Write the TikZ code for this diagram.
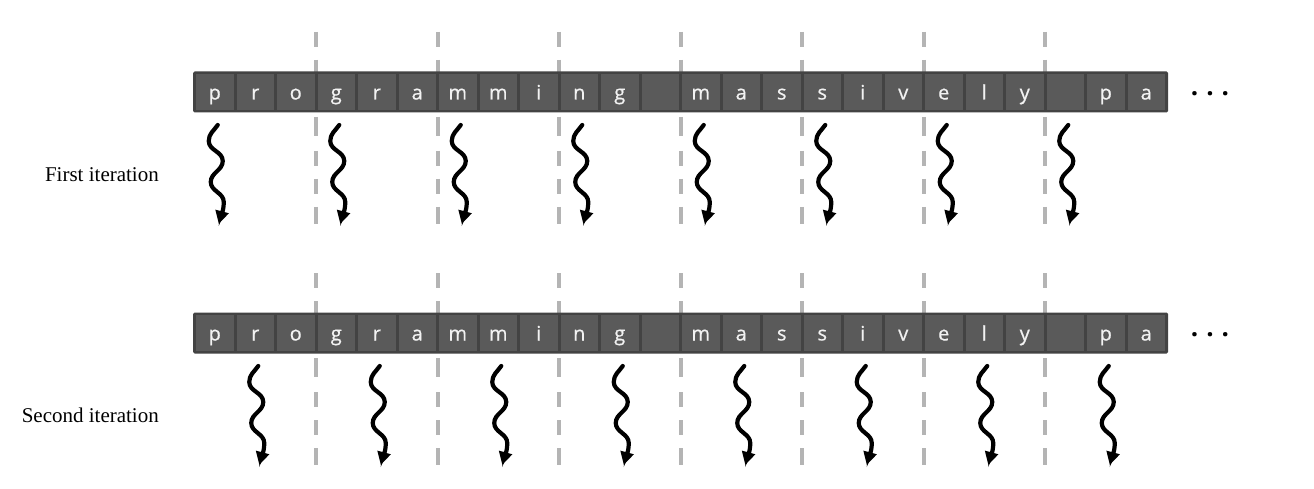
\documentclass[tikz,border=0pt]{standalone}
\usepackage{fontspec}
\setmainfont{Liberation Serif}
\newfontfamily\cellfont[FakeBold=0.6]{Open Sans}
\newfontfamily\dotfont{Open Sans}
\usetikzlibrary{arrows.meta}
\definecolor{barc}{HTML}{434343}
\definecolor{cellc}{HTML}{5A5A5A}
\definecolor{dashc}{HTML}{B4B4B4}
\definecolor{letterc}{HTML}{F2F2F2}
\begin{document}
\begin{tikzpicture}[x=1pt,y=1pt,
  barbox/.style={draw=none,fill=barc,rounded corners=1.5pt,minimum width=975pt,minimum height=41pt,inner sep=0pt},
  cellbox/.style={fill=cellc,minimum width=37.5pt,minimum height=36pt,inner sep=0pt,
     text=letterc,font=\cellfont\fontsize{20}{22}\selectfont,text height=15.5pt,text depth=0.5pt},
  sepline/.style={draw=dashc,line width=4pt},
  wave/.style={line width=4.2pt,black,line cap=round,-{Triangle[length=13pt,width=13pt]}},
  lbl/.style={font=\fontsize{21}{24}\selectfont,anchor=base east,inner sep=0pt},
  dotsnode/.style={font=\dotfont\bfseries\fontsize{26}{28}\selectfont,anchor=base,inner sep=0pt}
]
\useasboundingbox (0,0) rectangle (1314,-489);
\fill[white] (0,0) rectangle (1314,-489);

% two rows: offset 0 and 241
\foreach \row/\off in {t/0,b/241}{
  % dashed separators
  \foreach \j in {1,...,7}{
    \pgfmathsetmacro\dx{194.5+121.5*\j}
    \coordinate (\row s\j a) at (\dx,-32-\off);
    \coordinate (\row s\j b) at (\dx,-72-\off);
    \coordinate (\row s\j c) at (\dx,-117-\off);
    \coordinate (\row s\j d) at (\dx,-225-\off);
    \draw[sepline,dash pattern=on 15pt off 13pt] (\row s\j a) -- (\row s\j b);
    \draw[sepline,dash pattern=on 19pt off 15pt on 15pt off 13pt on 15pt off 13pt on 17pt off 40pt] (\row s\j c) -- (\row s\j d);
  }
  % bar
  \node[barbox] (\row bar) at (680.5,-92-\off) {};
  % cells
  \foreach \ch [count=\k from 0] in {p,r,o,g,r,a,m,m,i,n,g,{},m,a,s,s,i,v,e,l,y,{},p,a}{
    \pgfmathsetmacro\cx{214.75+40.5*\k}
    \node[cellbox] (\row c\k) at (\cx,-92-\off) {\ch};
  }
  % ellipsis
  \node[dotsnode] (\row dots) at (1210,-95.5-\off) {.\kern 8pt.\kern 8pt.};
}

% labels
\node[lbl] (lab1) at (159,-181.7) {First iteration};
\node[lbl] (lab2) at (159,-422.7) {Second iteration};

% wavy arrows
\foreach \row/\off/\shift in {t/0/0,b/241/40.5}{
  \foreach \j in {0,...,7}{
    \pgfmathsetmacro\cx{214.75+\shift+121.5*\j}
    \coordinate (\row w\j a) at (\cx+3,-125-\off);
    \coordinate (\row w\j b) at (\cx+4,-224-\off);
    \draw[wave] (\row w\j a) to[out=-125,in=90] ++(-9,-16)
       to[out=-90,in=90] ++(14,-20)
       to[out=-90,in=90] ++(-12,-21)
       to[out=-90,in=90] ++(13,-20)
       to[out=-90,in=75] (\row w\j b);
  }
}
\end{tikzpicture}
\end{document}
